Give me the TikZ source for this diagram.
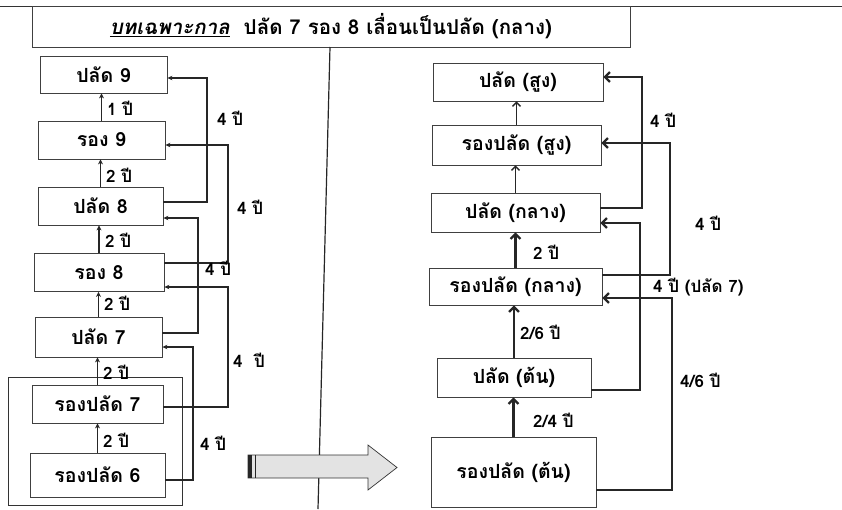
\documentclass[tikz,border=0pt]{standalone}
\usepackage{fontspec}
\newfontfamily\thai[Script=Thai]{Loma}
\newfontfamily\thaisl[Script=Thai,FakeSlant=0.2]{Loma}
\usetikzlibrary{arrows.meta,calc}
\begin{document}
\begin{tikzpicture}[x=1pt,y=-1pt,
  box/.style={draw=black!75, line width=0.8pt, inner sep=0pt, font=\thai\bfseries\fontsize{19.5}{21}\selectfont},
  lab/.style={anchor=west, inner sep=0pt, font=\thai\bfseries\fontsize{17}{19}\selectfont},
  lconn/.style={draw=black!85, line width=1.3pt, -{Stealth[length=5pt,width=4.5pt]}},
  lup/.style={draw=black!85, line width=1.6pt, -{Stealth[length=5pt,width=5pt]}},
  rconn/.style={draw=black!85, line width=2.2pt, -{Straight Barb[length=5pt,width=10pt]}},
  rup/.style={draw=black!85, line width=2.2pt, -{Straight Barb[length=5pt,width=10pt]}},
  rupthin/.style={draw=black!85, line width=1.4pt, -{Straight Barb[length=4pt,width=8pt]}}
]
\useasboundingbox (0,0) rectangle (842,509);
% top rule and title
\draw[black!80, line width=0.8pt] (0,6) -- (842,6);
\node[draw=black!75, line width=0.8pt, minimum width=598pt, minimum height=41pt, inner sep=0pt,
      font=\thai\bfseries\fontsize{20.5}{22}\selectfont] (title) at (331,26.5)
  {\underline{\thaisl บทเฉพาะกาล}\ \ ปลัด 7 รอง 8 เลื่อนเป็นปลัด (กลาง)};
% divider
\draw[black!85, line width=1.2pt] (330,47) -- (318,509);

% ---------- left column ----------
\node[box, minimum width=127pt, minimum height=37pt] (L9)  at (103.5,74.5) {ปลัด 9};
\node[box, minimum width=127pt, minimum height=38pt] (R9)  at (101.5,140)  {รอง 9};
\node[box, minimum width=125pt, minimum height=38pt] (L8)  at (100.5,206)  {ปลัด 8};
\node[box, minimum width=130pt, minimum height=38pt] (R8)  at (99,272.5)   {รอง 8};
\node[box, minimum width=127pt, minimum height=40pt] (L7)  at (98.5,337)   {ปลัด 7};
\node[box, minimum width=131pt, minimum height=38pt] (RP7) at (97.5,404)   {รองปลัด 7};
\node[box, minimum width=135pt, minimum height=44pt] (RP6) at (97.5,475)   {รองปลัด 6};
\node[draw=black!80, line width=0.9pt, minimum width=174pt, minimum height=128pt, inner sep=0pt] (E) at (95,441) {};

% upward arrows left
\draw[lup] (R9.north)  -- (R9.north |- L9.south);
\draw[lup] (L8.north)  -- (L8.north |- R9.south);
\draw[lup] (R8.north)  -- (R8.north |- L8.south);
\draw[lup] (L7.north)  -- (L7.north |- R8.south);
\draw[lup] (RP7.north) -- (RP7.north |- L7.south);
\draw[lup] (RP6.north) -- (RP6.north |- RP7.south);
\node[lab] (a1) at (107,108) {1 ปี};
\node[lab] (a2) at (106,175) {2 ปี};
\node[lab] (a3) at (105,240) {2 ปี};
\node[lab] (a4) at (104,303) {2 ปี};
\node[lab] (a5) at (103,372) {2 ปี};
\node[lab] (a6) at (103,440) {2 ปี};

% loops left
\coordinate (o1) at ([yshift=4pt]L8.east);   \coordinate (i1) at ([yshift=-3.5pt]L9.east);
\coordinate (o2) at ([yshift=9.5pt]R8.east); \coordinate (i2) at ([yshift=-5pt]R9.east);
\coordinate (o3) at ([yshift=4pt]L7.east);   \coordinate (i3) at ([yshift=-12pt]L8.east);
\coordinate (o4) at ([yshift=-3pt]RP7.east); \coordinate (i4) at ([yshift=-14.5pt]R8.east);
\coordinate (o5) at ([yshift=-5pt]RP6.east); \coordinate (i5) at ([yshift=-10pt]L7.east);
\draw[lconn] (o1) -- (207,0 |- o1) -- (207,0 |- i1) -- (i1);
\draw[lconn] (o2) -- (228,0 |- o2) -- (228,0 |- i2) -- (i2);
\draw[lconn] (o3) -- (198,0 |- o3) -- (198,0 |- i3) -- (i3);
\draw[lconn] (o4) -- (228,0 |- o4) -- (228,0 |- i4) -- (i4);
\draw[lconn] (o5) -- (193,0 |- o5) -- (193,0 |- i5) -- (i5);
\node[lab] (b1) at (217,118) {4 ปี};
\node[lab] (b2) at (237,207) {4 ปี};
\node[lab] (b3) at (205,268) {4 ปี};
\node[lab] (b4) at (233,360) {4\ \ ปี};
\node[lab] (b5) at (200,443) {4 ปี};

% big arrow
\draw[black!80, line width=0.7pt, fill=gray!22]
  (248,455) -- (368,455) -- (368,445) -- (397,467.5) -- (368,490) -- (368,478) -- (248,478) -- cycle;
\fill[black!85] (248,455) rectangle (252,478);
\draw[black!85, line width=1pt] (255,455) -- (255,478);

% ---------- right column ----------
\node[box, minimum width=170pt, minimum height=38pt] (PS)  at (518,82)     {ปลัด (สูง)};
\node[box, minimum width=169pt, minimum height=40pt] (RPS) at (516.5,145)  {รองปลัด (สูง)};
\node[box, minimum width=169pt, minimum height=39pt] (PK)  at (515.5,212.5){ปลัด (กลาง)};
\node[box, minimum width=173pt, minimum height=37pt] (RPK) at (515.5,286.5){รองปลัด (กลาง)};
\node[box, minimum width=154pt, minimum height=39pt] (PT)  at (514,377.5)  {ปลัด (ต้น)};
\node[box, minimum width=165pt, minimum height=70pt] (RPT) at (513.5,472)  {รองปลัด (ต้น)};

\draw[rupthin] (RPS.north) -- (RPS.north |- PS.south);
\draw[rupthin] (PK.north)  -- (PK.north |- RPS.south);
\draw[rup] (RPK.north) -- (RPK.north |- PK.south);
\draw[rup] (PT.north)  -- (PT.north |- RPK.south);
\draw[rup] (RPT.north) -- (RPT.north |- PT.south);
\node[lab] (c1) at (533,252) {2 ปี};
\node[lab] (c2) at (520,332) {2/6 ปี};
\node[lab] (c3) at (533,420) {2/4 ปี};

\coordinate (p1) at ([yshift=4.5pt]PK.east);    \coordinate (q1) at ([yshift=5pt]PS.east);
\coordinate (p2) at ([yshift=11.5pt]RPK.east);  \coordinate (q2) at ([yshift=2pt]RPS.east);
\coordinate (p3) at ([yshift=-12.5pt]PT.east);  \coordinate (q3) at ([yshift=-10.5pt]PK.east);
\coordinate (p4) at ([yshift=-18pt]RPT.east);   \coordinate (q4) at ([yshift=-11.5pt]RPK.east);
\draw[rconn] (p1) -- (642,0 |- p1) -- (642,0 |- q1) -- (q1);
\draw[rconn] (p2) -- (670,0 |- p2) -- (670,0 |- q2) -- (q2);
\draw[rconn] (p3) -- (640,0 |- p3) -- (640,0 |- q3) -- (q3);
\draw[rconn] (p4) -- (672,0 |- p4) -- (672,0 |- q4) -- (q4);
\node[lab] (d1) at (650,120) {4 ปี};
\node[lab] (d2) at (695,223) {4 ปี};
\node[lab] (d3) at (653,287) {4 ปี (ปลัด 7)};
\node[lab] (d4) at (680,380) {4/6 ปี};
\end{tikzpicture}
\end{document}
